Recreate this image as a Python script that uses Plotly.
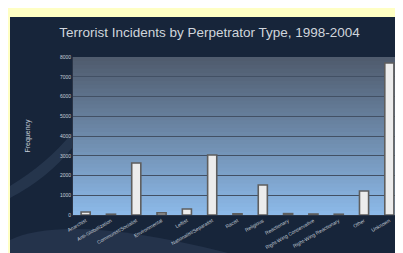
import plotly.graph_objects as go

categories = ["Anarchist", "Anti-Globalization", "Communist/Socialist", "Environmental",
              "Leftist", "Nationalist/Separatist", "Racist", "Religious",
              "Reactionary", "Right-Wing Conservative", "Right-Wing Reactionary",
              "Other", "Unknown"]
values = [150, 40, 2630, 110, 300, 3040, 60, 1520, 70, 50, 40, 1215, 7700]
y_ticks = [0, 1000, 2000, 3000, 4000, 5000, 6000, 7000, 8000]

W, H = 403, 253
L, R, T, B = 65, 9, 49, 46
pw, ph = W - L - R, H - T - B

def px2x(p):
    return (p - L) / pw

def px2y(p):
    return (H - B - p) / ph

shapes = []
# dark panel
shapes.append(dict(type="rect", xref="paper", yref="paper", layer="below",
                   x0=px2x(2), x1=px2x(399), y0=px2y(251), y1=px2y(9),
                   fillcolor="#17253a", line=dict(width=0)))
# faint lighter swirls in the panel
shapes.append(dict(type="path", xref="paper", yref="paper", layer="below",
                   path=f"M {px2x(2)},{px2y(232)} Q {px2x(60)},{px2y(205)} {px2x(220)},{px2y(245)} "
                        f"L {px2x(220)},{px2y(251)} L {px2x(2)},{px2y(251)} Z",
                   fillcolor="rgba(120,150,190,0.13)", line=dict(width=0)))
shapes.append(dict(type="path", xref="paper", yref="paper", layer="below",
                   path=f"M {px2x(2)},{px2y(178)} Q {px2x(40)},{px2y(155)} {px2x(64)},{px2y(125)} "
                        f"L {px2x(64)},{px2y(140)} Q {px2x(40)},{px2y(170)} {px2x(2)},{px2y(190)} Z",
                   fillcolor="rgba(140,170,210,0.12)", line=dict(width=0)))
# plot area gradient (top slate -> bottom light blue), overlapping bands
top_c = (80, 92, 110)
bot_c = (140, 185, 232)
n = 40
for i in range(n):
    f = i / (n - 1)
    c = tuple(int(top_c[k] + (bot_c[k] - top_c[k]) * f) for k in range(3))
    shapes.append(dict(type="rect", xref="x domain", yref="y domain", layer="below",
                       x0=0, x1=1, y0=max(0, 1 - (i + 1) / n - 0.02), y1=1 - i / n,
                       fillcolor=f"rgb{c}", line=dict(width=0)))

fig = go.Figure(go.Bar(
    x=categories, y=values,
    marker=dict(color="#ececec", line=dict(color="#5e5e5e", width=1.6)),
))

fig.update_layout(
    width=W, height=H,
    margin=dict(l=L, r=R, t=T, b=B),
    paper_bgcolor="#ffffc4",
    plot_bgcolor="rgb(140,185,232)",
    bargap=0.64,
    showlegend=False,
    shapes=shapes,
    title=dict(text="Terrorist Incidents by Perpetrator Type, 1998-2004",
               x=0.5, xref="container", xanchor="center",
               y=1 - 24 / H, yref="container", yanchor="middle",
               font=dict(family="Liberation Sans, Arial", size=13.5, color="#d0d5dc")),
    font=dict(family="Liberation Sans, Arial"),
)
fig.update_yaxes(range=[0, 8000], tickvals=y_ticks, ticktext=[str(v) for v in y_ticks],
                 showgrid=True, gridcolor="#425064", gridwidth=1,
                 zeroline=False, showline=True, linecolor="#2a3446",
                 tickfont=dict(size=5, color="#c8d0da"),
                 title=dict(text="Frequency", font=dict(size=7, color="#c8d0da"), standoff=28))
fig.update_xaxes(tickangle=-30, tickfont=dict(size=5, color="#c0c8d2"),
                 showline=True, linecolor="#2a3446", ticks="")

fig.write_html("out.html")
